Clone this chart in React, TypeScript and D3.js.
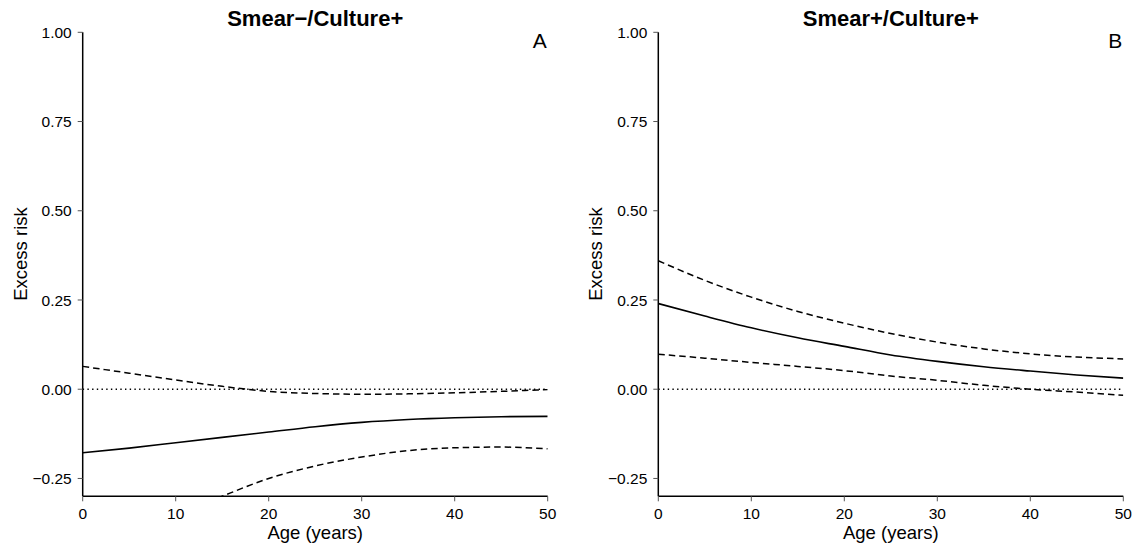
import React from "react";
import * as d3 from "d3";

// Age grid (years) at which the fitted excess risk curves are evaluated
const ages = [0, 5, 10, 15, 20, 25, 30, 35, 40, 45, 50];

// Panel A: Smear−/Culture+
const smearNegEst = [-0.178, -0.165, -0.15, -0.135, -0.12, -0.105, -0.093, -0.085, -0.08, -0.077, -0.076];
const smearNegUpper = [0.064, 0.045, 0.026, 0.008, -0.006, -0.012, -0.014, -0.013, -0.01, -0.006, -0.001];
const smearNegLower = [-0.47, -0.41, -0.355, -0.3, -0.25, -0.215, -0.19, -0.172, -0.164, -0.162, -0.167];

// Panel B: Smear+/Culture+
const smearPosEst = [0.24, 0.205, 0.172, 0.144, 0.12, 0.096, 0.078, 0.063, 0.051, 0.04, 0.031];
const smearPosUpper = [0.36, 0.305, 0.258, 0.218, 0.185, 0.156, 0.132, 0.113, 0.099, 0.09, 0.085];
const smearPosLower = [0.098, 0.087, 0.075, 0.064, 0.052, 0.037, 0.025, 0.011, 0.0, -0.008, -0.017];

const xTicks = [0, 10, 20, 30, 40, 50];
const yTicks = [-0.25, 0, 0.25, 0.5, 0.75, 1.0];

const panels = [
  { id: "a", title: "Smear\u2212/Culture+", tag: "A", left: 82.7, est: smearNegEst, upper: smearNegUpper, lower: smearNegLower },
  { id: "b", title: "Smear+/Culture+", tag: "B", left: 658.3, est: smearPosEst, upper: smearPosUpper, lower: smearPosLower },
];

const W = 1136;
const H = 547;
const plotW = 465;
const top = 32.3;
const bottom = 496.3;
const font = "'Liberation Sans', Arial, Helvetica, sans-serif";

function fmtY(v: number) {
  const s = Math.abs(v).toFixed(2);
  return v < 0 ? "\u2212" + s : s;
}

function Panel({ p }: { p: (typeof panels)[number] }) {
  const x = d3.scaleLinear().domain([0, 50]).range([p.left, p.left + plotW]);
  const y = d3.scaleLinear().domain([-0.3, 1.0]).range([bottom, top]);
  const line = d3
    .line<number>()
    .x((_, i) => x(ages[i]))
    .y((v) => y(v))
    .curve(d3.curveMonotoneX);
  const clipId = "clip-" + p.id;
  const cx = (x(0) + x(50)) / 2;
  return (
    <g>
      <defs>
        <clipPath id={clipId}>
          <rect x={x(0)} y={top} width={plotW} height={bottom - top} />
        </clipPath>
      </defs>
      <g clipPath={`url(#${clipId})`} fill="none" stroke="#000">
        <line x1={x(0)} x2={x(50)} y1={y(0)} y2={y(0)} strokeWidth={1.5} strokeDasharray="1.4,3.3" />
        <path d={line(p.upper) || ""} strokeWidth={1.5} strokeDasharray="6.5,4" />
        <path d={line(p.lower) || ""} strokeWidth={1.5} strokeDasharray="6.5,4" />
        <path d={line(p.est) || ""} strokeWidth={1.6} />
      </g>
      {/* axes */}
      <line x1={x(0)} x2={x(0)} y1={top} y2={bottom} stroke="#000" strokeWidth={1.5} />
      <line x1={x(0)} x2={x(50)} y1={bottom} y2={bottom} stroke="#000" strokeWidth={1.5} />
      {yTicks.map((t) => (
        <g key={"y" + t}>
          <line x1={x(0) - 5} x2={x(0)} y1={y(t)} y2={y(t)} stroke="#555" strokeWidth={1} />
          <text x={x(0) - 11} y={y(t)} dy="0.36em" textAnchor="end" fontSize={15.5} fontFamily={font} fill="#000">
            {fmtY(t)}
          </text>
        </g>
      ))}
      {xTicks.map((t) => (
        <g key={"x" + t}>
          <line x1={x(t)} x2={x(t)} y1={bottom} y2={bottom + 5} stroke="#555" strokeWidth={1} />
          <text x={x(t)} y={519} textAnchor="middle" fontSize={15.5} fontFamily={font} fill="#000">
            {t}
          </text>
        </g>
      ))}
      <text x={cx} y={539} textAnchor="middle" fontSize={18.5} fontFamily={font} fill="#000">
        Age (years)
      </text>
      <text
        transform={`translate(${x(0) - 56},254) rotate(-90)`}
        textAnchor="middle"
        fontSize={18.5}
        fontFamily={font}
        fill="#000"
      >
        Excess risk
      </text>
      <text x={cx} y={26} textAnchor="middle" fontSize={22} fontWeight="bold" fontFamily={font} fill="#000">
        {p.title}
      </text>
      <text x={x(50) - 1} y={47.5} textAnchor="end" fontSize={21} fontFamily={font} fill="#000">
        {p.tag}
      </text>
    </g>
  );
}

export default function App() {
  return (
    <svg
      width={W}
      height={H}
      viewBox={`0 0 ${W} ${H}`}
      style={{ position: "absolute", left: 0, top: 0, background: "#fff" }}
    >
      <rect width={W} height={H} fill="#fff" />
      {panels.map((p) => (
        <Panel key={p.id} p={p} />
      ))}
    </svg>
  );
}
